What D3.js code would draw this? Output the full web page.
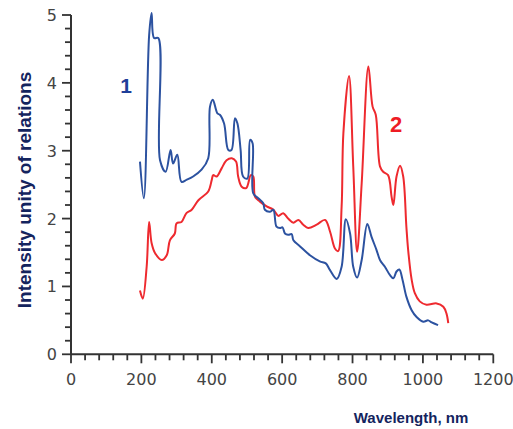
<!DOCTYPE html>
<html><head><meta charset="utf-8">
<script src="https://cdn.jsdelivr.net/npm/d3@7"></script>
<style>body{margin:0;background:#fff}svg{display:block}</style>
</head><body>
<svg id="c" width="513" height="429"></svg>
<script>
const xTicks = [0,200,400,600,800,1000,1200];
const yTicks = [0,1,2,3,4,5];
const series1Wavelength = [196,207,222,229,236,248,253,269,283,290,302,314,328,347,371,390,395,403,416,423,435,447,456,466,473,482,489,501,509,516,518,532,546,551,565,575,584,594,601,608,617,627,632,651,679,707,724,736,755,769,781,793,802,813,826,842,854,868,878,892,906,916,925,933,942,953,968,982,1001,1015,1025,1043];
const series1Intensity = [2.84,2.30,4.70,5.03,4.66,4.66,2.86,2.69,3.01,2.81,2.94,2.54,2.57,2.62,2.72,2.89,3.65,3.75,3.55,3.53,3.40,3.01,3.01,3.48,3.40,3.01,2.62,2.59,3.16,3.11,2.37,2.30,2.23,2.13,2.10,2.13,1.88,1.86,1.87,1.78,1.76,1.77,1.68,1.59,1.46,1.37,1.34,1.24,1.11,1.29,1.99,1.78,1.29,1.13,1.39,1.92,1.73,1.54,1.39,1.29,1.17,1.12,1.22,1.25,1.10,0.85,0.65,0.55,0.48,0.50,0.47,0.43];
const series2Wavelength = [196,204,215,222,229,239,258,272,281,295,300,314,328,343,362,390,400,404,414,428,442,457,469,475,485,498,511,518,523,537,556,575,589,603,617,632,646,660,674,698,722,736,750,759,769,774,790,802,813,826,845,857,866,878,887,901,911,916,925,935,944,953,958,968,977,991,1010,1039,1058,1067,1072];
const series2Intensity = [0.94,0.82,1.29,1.95,1.64,1.49,1.39,1.46,1.68,1.78,1.93,1.95,2.08,2.13,2.27,2.40,2.57,2.64,2.62,2.74,2.86,2.89,2.84,2.62,2.47,2.45,2.64,2.62,2.32,2.25,2.18,2.13,2.04,2.08,2.00,1.94,1.98,1.91,1.86,1.91,1.98,1.81,1.56,1.52,2.18,3.26,4.10,2.77,1.51,2.52,4.24,3.65,3.53,2.77,2.69,2.64,2.32,2.20,2.62,2.78,2.62,1.88,1.54,1.10,0.90,0.78,0.73,0.75,0.70,0.60,0.46];
const seriesLabels = ["1","2"];
const xTitle = "Wavelength, nm";
const yTitle = "Intensity unity of relations";

const svg = d3.select("#c");
const x = d3.scaleLinear().domain([0,1200]).range([71,493.3]);
const y = d3.scaleLinear().domain([0,5]).range([354.3,15]);
const axisColor = "#333";
const labelFont = "'DejaVu Sans', sans-serif";

// x axis
const xAxis = svg.append("g").attr("transform","translate(0,354.3)");
xAxis.append("line").attr("x1",x(0)).attr("x2",x(1200)).attr("stroke",axisColor).attr("stroke-width",2);
xAxis.selectAll("line.minor").data(d3.range(0,1201,40)).join("line").attr("class","minor")
  .attr("x1",d=>x(d)).attr("x2",d=>x(d)).attr("y1",0).attr("y2",d=>d%200===0?9:6)
  .attr("stroke",axisColor).attr("stroke-width",1.8);
xAxis.selectAll("text").data(xTicks).join("text")
  .attr("x",d=>x(d)).attr("y",31).attr("text-anchor","middle")
  .attr("font-family",labelFont).attr("font-size",16).attr("fill","#444").text(d=>d);

// y axis
const yAxis = svg.append("g").attr("transform","translate(71,0)");
yAxis.append("line").attr("y1",y(0)).attr("y2",y(5)).attr("stroke",axisColor).attr("stroke-width",2);
yAxis.selectAll("line.minor").data(d3.range(0,26).map(i=>i/5)).join("line").attr("class","minor")
  .attr("y1",d=>y(d)).attr("y2",d=>y(d)).attr("x1",0).attr("x2",d=>Math.abs(d-Math.round(d))<1e-6?-9:-6)
  .attr("stroke",axisColor).attr("stroke-width",1.8);
yAxis.selectAll("text").data(yTicks).join("text")
  .attr("x",-14).attr("y",d=>y(d)+6).attr("text-anchor","end")
  .attr("font-family",labelFont).attr("font-size",16).attr("fill","#444").text(d=>d);

// lines
const line = d3.line().x(d=>x(d[0])).y(d=>y(d[1])).curve(d3.curveCatmullRom.alpha(0.5));
svg.append("path").datum(d3.zip(series2Wavelength,series2Intensity)).attr("d",line)
  .attr("fill","none").attr("stroke","#ee2a2f").attr("stroke-width",2);
svg.append("path").datum(d3.zip(series1Wavelength,series1Intensity)).attr("d",line)
  .attr("fill","none").attr("stroke","#2c52a0").attr("stroke-width",2);

// series labels
svg.append("text").attr("x",126).attr("y",93).attr("text-anchor","middle")
  .attr("font-family","Liberation Sans, Arial, sans-serif").attr("font-weight","bold").attr("font-size",21)
  .attr("fill","#1f3f99").text(seriesLabels[0]);
svg.append("text").attr("x",396).attr("y",132).attr("text-anchor","middle")
  .attr("font-family","Liberation Sans, Arial, sans-serif").attr("font-weight","bold").attr("font-size",22)
  .attr("fill","#ee1c24").text(seriesLabels[1]);

// titles
svg.append("text").attr("x",411).attr("y",423).attr("text-anchor","middle")
  .attr("font-family","Liberation Sans, Arial, sans-serif").attr("font-weight","bold").attr("font-size",15)
  .attr("fill","#14245e").text(xTitle);
svg.append("text").attr("transform","translate(31,190) rotate(-90)").attr("text-anchor","middle")
  .attr("font-family","Liberation Sans, Arial, sans-serif").attr("font-weight","bold").attr("font-size",19)
  .attr("fill","#14245e").text(yTitle);
</script>
</body></html>
